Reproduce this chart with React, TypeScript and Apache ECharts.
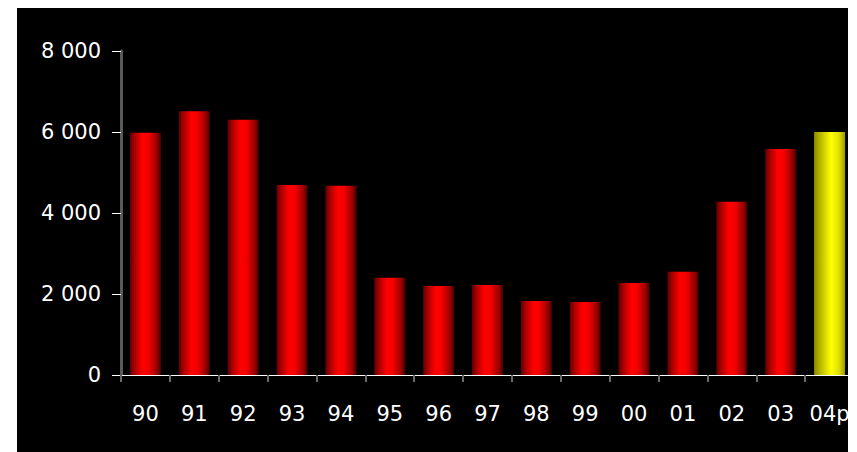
import React, { useEffect, useRef } from "react";
import * as echarts from "echarts";

const categories = ["90", "91", "92", "93", "94", "95", "96", "97", "98", "99", "00", "01", "02", "03", "04p"];
const values = [5980, 6510, 6300, 4690, 4670, 2400, 2200, 2220, 1830, 1800, 2270, 2550, 4280, 5580, 6000];
const highlightIndex = 14;
const yTicks = [0, 2000, 4000, 6000, 8000];

const redGrad = () =>
  new echarts.graphic.LinearGradient(0, 0, 1, 0, [
    { offset: 0, color: "#5e0000" },
    { offset: 0.15, color: "#a80000" },
    { offset: 0.4, color: "#ff0000" },
    { offset: 0.6, color: "#f40000" },
    { offset: 0.85, color: "#a00000" },
    { offset: 1, color: "#4a0000" },
  ]);
const yellowGrad = () =>
  new echarts.graphic.LinearGradient(0, 0, 1, 0, [
    { offset: 0, color: "#8a8a00" },
    { offset: 0.2, color: "#b8b800" },
    { offset: 0.55, color: "#ffff00" },
    { offset: 0.8, color: "#e0e000" },
    { offset: 1, color: "#9a9a00" },
  ]);

export default function App() {
  const ref = useRef<HTMLDivElement>(null);
  useEffect(() => {
    if (!ref.current) return;
    const chart = echarts.init(ref.current, null, { renderer: "svg" });
    const font = "'DejaVu Sans', sans-serif";
    chart.setOption({
      animation: false,
      backgroundColor: "#000000",
      grid: { left: 104, right: 63, top: 43, bottom: 77, containLabel: false },
      xAxis: {
        type: "category",
        data: categories,
        axisLine: { show: true, lineStyle: { color: "#ffffff", width: 1 } },
        axisTick: { show: true, length: 7, lineStyle: { color: "#6a6a6a", width: 2 } },
        axisLabel: { color: "#ffffff", fontSize: 21, fontFamily: font, margin: 28, interval: 0 },
      },
      yAxis: {
        type: "value",
        min: 0,
        max: 8000,
        interval: 2000,
        splitLine: { show: false },
        axisLine: { show: true, lineStyle: { color: "#5a5a5a", width: 3 } },
        axisTick: { show: true, length: 9, lineStyle: { color: "#ffffff", width: 1 } },
        axisLabel: {
          color: "#ffffff",
          fontSize: 21,
          fontFamily: font,
          margin: 20,
          formatter: (v: number) => (yTicks.includes(v) ? (v === 0 ? "0" : `${Math.floor(v / 1000)} ${String(v % 1000).padStart(3, "0")}`) : ""),
        },
      },
      series: [
        {
          type: "bar",
          barWidth: 31,
          data: values.map((v, i) => ({
            value: v,
            itemStyle: { color: i === highlightIndex ? yellowGrad() : redGrad() },
          })),
        },
      ],
    });
    return () => chart.dispose();
  }, []);
  return (
    <div
      style={{
        position: "fixed",
        left: 17,
        top: 8,
        width: 831,
        height: 444,
        overflow: "hidden",
        background: "#000",
      }}
    >
      <div ref={ref} style={{ width: 900, height: 444 }} />
    </div>
  );
}
